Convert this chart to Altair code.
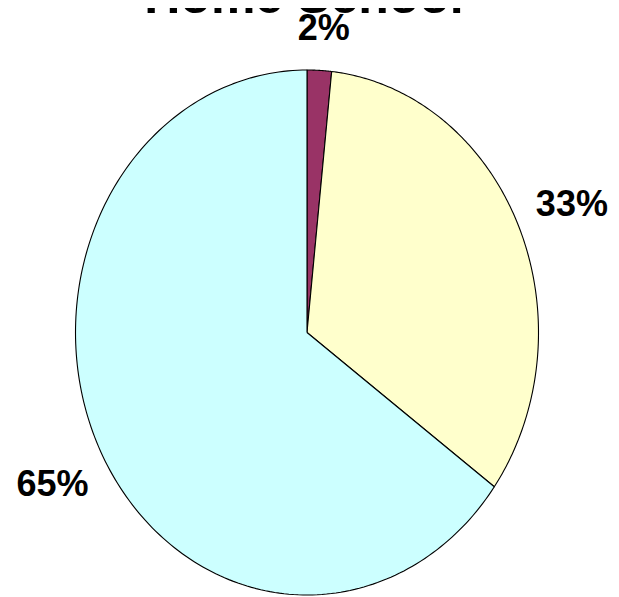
import altair as alt
import pandas as pd

categories = ["Category A", "Category B", "Category C"]
values = [1.7, 33.3, 65.0]
labels = ["2%", "33%", "65%"]
colors = ["#993366", "#FFFFCC", "#CCFFFF"]
title_text = "Home School"
footnote_mark = "4"

df = pd.DataFrame({
    "category": categories,
    "value": values,
    "label": labels,
    "idx": list(range(len(categories))),
})

W, H = 603, 600
xscale = alt.Scale(domain=[-1.2916, 1.3132], nice=False, zero=False)
yscale = alt.Scale(domain=[-1.0495, 1.2362], nice=False, zero=False)

base = (
    alt.Chart(df)
    .transform_joinaggregate(total="sum(value)")
    .transform_window(cum="sum(value)", sort=[alt.SortField("idx")], frame=[None, 0])
    .transform_calculate(
        end="datum.cum / datum.total",
        start="(datum.cum - datum.value) / datum.total",
    )
)

slices = (
    base.transform_calculate(steps="sequence(-1, 202)")
    .transform_flatten(["steps"], as_=["i"])
    .transform_calculate(
        t="2*PI*(datum.start + (datum.end - datum.start) * clamp(datum.i, 0, 200) / 200)",
        r="(datum.i < 0 || datum.i > 200) ? 0 : 1",
    )
    .transform_calculate(u="datum.r * sin(datum.t)", v="datum.r * cos(datum.t)")
    .mark_line(stroke="black", strokeWidth=1.1, strokeJoin="round")
    .encode(
        x=alt.X("u:Q", scale=xscale, axis=None),
        y=alt.Y("v:Q", scale=yscale, axis=None),
        order=alt.Order("i:Q"),
        detail="category:N",
        fill=alt.Fill("category:N", scale=alt.Scale(domain=categories, range=colors), legend=None),
    )
)

label_base = base.transform_calculate(
    mid="PI * (datum.start + datum.end)",
).transform_calculate(lx="1.2 * sin(datum.mid)", ly="1.2 * cos(datum.mid)")

offsets = {0: (2, 11), 1: (11, 0), 2: (-7, 9)}
text_layers = []
for k, (ddx, ddy) in offsets.items():
    text_layers.append(
        label_base.transform_filter(f"datum.idx == {k}")
        .mark_text(fontSize=36, fontWeight="bold", font="Liberation Sans", color="black",
                   baseline="middle", align="center", dx=ddx, dy=ddy)
        .encode(
            x=alt.X("lx:Q", scale=xscale, axis=None),
            y=alt.Y("ly:Q", scale=yscale, axis=None),
            text="label:N",
        )
    )

title = (
    alt.Chart(pd.DataFrame({"t": [title_text]}))
    .mark_text(fontSize=50, fontWeight="bold", font="Liberation Sans", color="black", baseline="alphabetic", align="center")
    .encode(x=alt.value(296), y=alt.value(5), text="t:N")
)

footnote = (
    alt.Chart(pd.DataFrame({"t": [footnote_mark]}))
    .mark_text(fontSize=16, fontWeight="bold", font="Liberation Sans", color="black", baseline="alphabetic", align="center")
    .encode(x=alt.value(474), y=alt.value(-1), text="t:N")
)

chart = (
    alt.layer(slices, *text_layers, title, footnote)
    .properties(width=W, height=H, autosize=alt.AutoSizeParams(type="none"), padding=0)
    .configure_view(stroke=None)
)

chart.save("out.html", embed_options={"renderer": "svg", "actions": False})
